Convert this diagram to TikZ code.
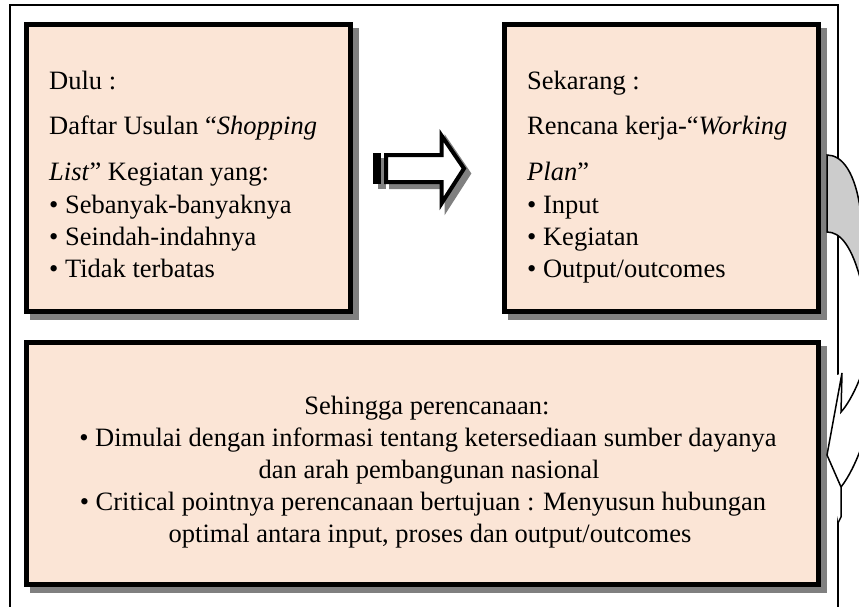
\documentclass[tikz,border=0pt]{standalone}
\usepackage{fontspec}
\setmainfont{Liberation Serif}
\definecolor{peach}{HTML}{FBE5D6}
\definecolor{shad}{HTML}{808080}
\definecolor{backgray}{HTML}{CCCCCC}
\begin{document}
\begin{tikzpicture}[x=1pt,y=-1pt,font=\fontsize{26.5}{32}\selectfont]
\tikzset{
  mainbox/.style={draw=black,line width=5pt,fill=peach,inner sep=0pt,anchor=north west},
  shadowfill/.style={fill=shad},
  txt/.style={inner sep=0pt,anchor=base west},
  ctxt/.style={inner sep=0pt,anchor=base},
  arrowline/.style={draw=black,line width=1.5pt},
}
\useasboundingbox (0,0) rectangle (859,607);
\clip (0,0) rectangle (859,607);
% outer frame
\draw[line width=1.5pt] (10,630) -- (10,5) -- (838,5) -- (838,630);
% shadows
\fill[shadowfill] (30,28) rectangle (359,320);
\fill[shadowfill] (508,28) rectangle (827,320);
\fill[shadowfill] (30,346) rectangle (827,593);
% boxes
\node[mainbox,minimum width=324pt,minimum height=287pt] (b1) at (24,22) {};
\node[mainbox,minimum width=314pt,minimum height=287pt] (b2) at (502,22) {};
\node[mainbox,minimum width=792pt,minimum height=242pt] (b3) at (24,340) {};
% box 1 text
\node[txt] (l1a) at (49,90) {Dulu :};
\node[txt] (l1b) at (49,135) {Daftar Usulan “\textit{Shopping}};
\node[txt] (l1c) at (49,180) {\textit{List}” Kegiatan yang:};
\node[txt] (l1d) at (49,213) {• Sebanyak-banyaknya};
\node[txt] (l1e) at (49,245) {• Seindah-indahnya};
\node[txt] (l1f) at (49,277) {• Tidak terbatas};
% box 2 text
\node[txt] (l2a) at (527,90) {Sekarang :};
\node[txt] (l2b) at (527,135) {Rencana kerja-“\textit{Working}};
\node[txt] (l2c) at (527,180) {\textit{Plan}”};
\node[txt] (l2d) at (527,213) {• Input};
\node[txt] (l2e) at (527,245) {• Kegiatan};
\node[txt] (l2f) at (527,277) {• Output/outcomes};
% box 3 text
\node[ctxt] (l3a) at (427,414) {Sehingga perencanaan:};
\node[ctxt] (l3b) at (428,446) {• Dimulai dengan informasi tentang ketersediaan sumber dayanya};
\node[ctxt] (l3c) at (429,478) {dan arah pembangunan nasional};
\node[ctxt] (l3d) at (423,510) {• Critical pointnya perencanaan bertujuan : Menyusun hubungan};
\node[ctxt] (l3e) at (430,542) {optimal antara input, proses dan output/outcomes};
% striped block arrow: shadow
\fill[shad] (378,158) rectangle (386,189);
\filldraw[shad,line width=4pt,line join=miter] (391,160) -- (446.5,160) -- (446.5,140.5) -- (469,173.5) -- (446.5,208.5) -- (446.5,187) -- (391,187) -- cycle;
% striped block arrow
\fill[black] (373,153) rectangle (381,184);
\draw[line width=4pt,fill=white,line join=miter] (386,155) -- (441.5,155) -- (441.5,135.5) -- (464,168.5) -- (441.5,203.5) -- (441.5,182) -- (386,182) -- cycle;
% curved left arrow (partly outside the page)
\fill[white] (842,373) -- (842,520) -- (838,521) -- (827,455) -- (835,376) -- cycle;
\filldraw[arrowline,fill=backgray] (827,155) .. controls (842,155) and (856,172) .. (861,215) -- (880,215) -- (880,300) -- (862,285) .. controls (852,245) and (840,232) .. (827,232) -- cycle;
\draw[arrowline,line join=miter] (874,330) .. controls (866,370) and (852,400) .. (841,412) -- (842,373) -- (827,455) -- (841,487) -- (841,517) -- (838,523);
\draw[arrowline] (876,395) .. controls (869,430) and (856,468) .. (841,487);
\end{tikzpicture}
\end{document}
